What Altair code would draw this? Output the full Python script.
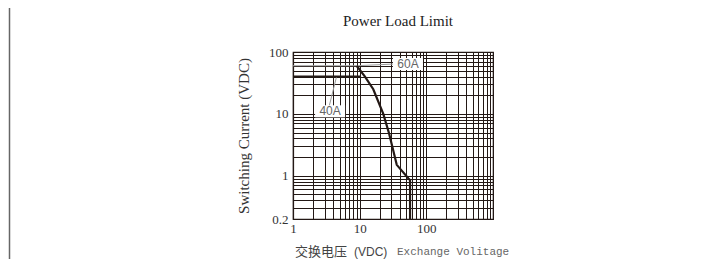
import altair as alt
import pandas as pd

# ---- text ----
title_text = "Power Load Limit"
y_title = "Switching Current (VDC)"
x_title_cn = "交换电压"
x_title_unit = "(VDC)"
x_title_en = "Exchange Volitage"

# ---- axes (log paper) ----
x_ticks = [1, 2, 3, 4, 5, 6, 7, 8, 9,
           10, 20, 30, 40, 50, 60, 70, 80, 90,
           100, 200, 300, 400, 500, 600, 700, 800, 900, 1000]
x_labels = [1, 10, 100]
y_ticks = [0.2, 0.3, 0.4, 0.5, 0.6, 0.7, 0.8, 0.9,
           1, 2, 3, 4, 5, 6, 7, 8, 9,
           10, 20, 30, 40, 50, 60, 70, 80, 90, 100]
y_labels = [0.2, 1, 10, 100]

# ---- curve (voltage V, current A) ----
curve_v = [9, 12, 16, 22.6, 27.5, 36, 54, 57, 57]
curve_i = [60, 40, 25, 10, 4.9, 1.5, 0.9, 0.85, 0.2]

line40_v = [1, 10.5]
line40_i = [40, 40]
line60_v = [1, 9]
line60_i = [60, 60]

leader60_v = [9, 34]
leader60_i = [60, 64]
leader40_v = [3.5, 4.5]
leader40_i = [13.5, 40]

label_text = ["60A", "40A"]
label_v = [53, 3.6]
label_i = [64, 11]

INK = "#231815"

def lbl_expr(vals):
    arr = ",".join(str(v) for v in vals)
    return f"indexof([{arr}], datum.value) >= 0 ? datum.label : ''"

x_scale = alt.Scale(type="log", domain=[1, 1000], nice=False)
y_scale = alt.Scale(type="log", domain=[0.2, 100], nice=False)

x_axis = alt.Axis(values=x_ticks, grid=True, ticks=False, format="~g",
                  labelExpr=lbl_expr(x_labels), labelFlush=False, labelOverlap=False,
                  labelFont="Liberation Serif", labelFontSize=13, labelColor="#333",
                  labelPadding=3, title=None, gridColor=INK, gridOpacity=1,
                  gridWidth=1, domainColor=INK, domainWidth=1.2)
y_axis = alt.Axis(values=y_ticks, grid=True, ticks=False, format="~g",
                  labelExpr=lbl_expr(y_labels), labelFlush=False, labelOverlap=False,
                  labelFont="Liberation Serif", labelFontSize=13, labelColor="#333",
                  labelPadding=5, title=y_title, titleFont="Liberation Serif",
                  titleFontSize=15, titleFontWeight="normal", titleColor="#333",
                  titlePadding=17, gridColor=INK, gridOpacity=1, gridWidth=1,
                  domainColor=INK, domainWidth=1.2)

def xy():
    return dict(
        x=alt.X("v:Q", scale=x_scale, axis=x_axis),
        y=alt.Y("i:Q", scale=y_scale, axis=y_axis),
    )

curve_df = pd.DataFrame({"v": curve_v, "i": curve_i, "o": list(range(len(curve_v)))})
curve = alt.Chart(curve_df).mark_line(color=INK, strokeWidth=2.2).encode(
    order="o:Q", **xy())

l40 = alt.Chart(pd.DataFrame({"v": line40_v, "i": line40_i})).mark_line(
    color=INK, strokeWidth=2).encode(**xy())
l60 = alt.Chart(pd.DataFrame({"v": line60_v, "i": line60_i})).mark_line(
    color="#9a9a9a", strokeWidth=1).encode(**xy())
ld60 = alt.Chart(pd.DataFrame({"v": leader60_v, "i": leader60_i})).mark_line(
    color="#9a9a9a", strokeWidth=1).encode(**xy())
ld40 = alt.Chart(pd.DataFrame({"v": leader40_v, "i": leader40_i})).mark_line(
    color="#9a9a9a", strokeWidth=1).encode(**xy())

lab_df = pd.DataFrame({"v": label_v, "i": label_i, "t": label_text})
boxes = alt.Chart(lab_df).mark_point(
    shape="M-1,-0.4H1V0.4H-1Z", filled=True, fill="white", stroke=None,
    opacity=1, size=900).encode(**xy())
labels = alt.Chart(lab_df).mark_text(
    font="Liberation Sans", fontSize=12, color="#666", align="center",
    baseline="middle").encode(text="t:N", **xy())

# chart title and x-axis title pieces (mixed fonts)
ttl = alt.Chart(pd.DataFrame({"t": [title_text]})).mark_text(
    font="Liberation Serif", fontSize=15, color="#222", align="center",
    baseline="alphabetic").encode(text="t:N", x=alt.value(105), y=alt.value(-26))
tcn = alt.Chart(pd.DataFrame({"t": [x_title_cn]})).mark_text(
    font="Noto Sans CJK SC", fontSize=13, color="#444", align="left",
    baseline="alphabetic").encode(text="t:N", x=alt.value(2), y=alt.value(204))
tun = alt.Chart(pd.DataFrame({"t": [x_title_unit]})).mark_text(
    font="Liberation Sans Narrow, Liberation Sans", fontSize=12, color="#444",
    align="left", baseline="alphabetic").encode(text="t:N", x=alt.value(61), y=alt.value(204))
ten = alt.Chart(pd.DataFrame({"t": [x_title_en]})).mark_text(
    font="Liberation Mono", fontSize=11, color="#666", align="left",
    baseline="alphabetic").encode(text="t:N", x=alt.value(104), y=alt.value(203))

frame = alt.Chart(pd.DataFrame({"a": [0]})).mark_rule(
    color="#666", strokeWidth=1.5).encode(
    x=alt.value(-283.5), y=alt.value(-44), y2=alt.value(207))

chart = alt.layer(
    l60, ld60, ld40, boxes, labels, l40, curve, ttl, tcn, tun, ten, frame
).properties(
    width=200, height=167,
    autosize=alt.AutoSizeParams(type="none"),
    padding={"left": 285, "top": 44, "right": 214, "bottom": 40},
).configure_view(stroke=INK, strokeWidth=1.2)

chart.save("out.html", embed_options={"renderer": "svg", "actions": False})
